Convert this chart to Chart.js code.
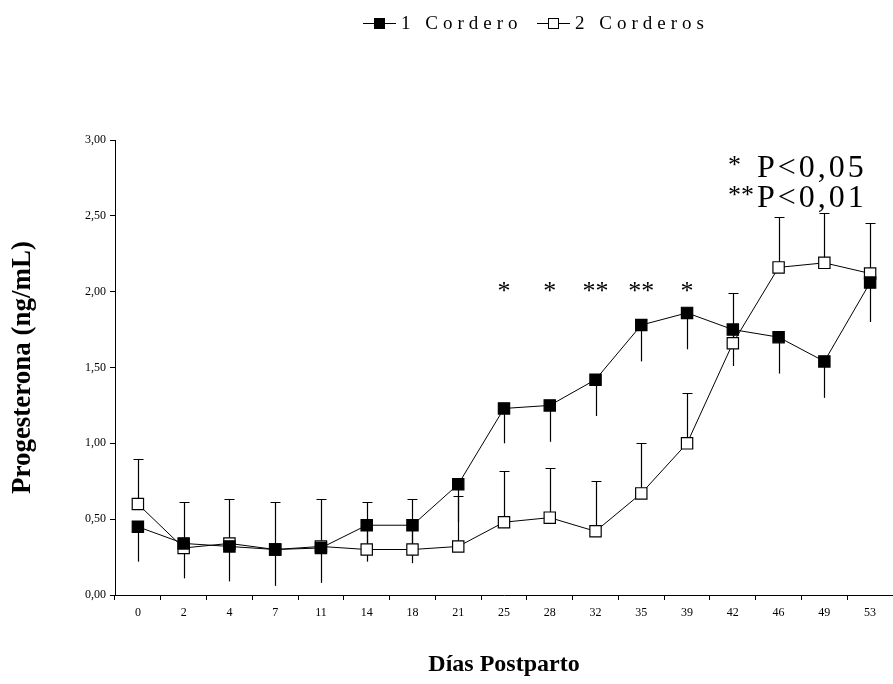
<!DOCTYPE html>
<html>
<head>
<meta charset="utf-8">
<script src="https://cdn.jsdelivr.net/npm/chart.js@4/dist/chart.umd.min.js"></script>
<style>
  body { margin: 0; background: #fff; }
  canvas { display: block; }
</style>
</head>
<body>
<canvas id="progChart" width="893" height="684"></canvas>
<script>
const days = ['0', '2', '4', '7', '11', '14', '18', '21', '25', '28', '32', '35', '39', '42', '46', '49', '53'];
const oneLamb = [0.45, 0.34, 0.32, 0.30, 0.31, 0.46, 0.46, 0.73, 1.23, 1.25, 1.42, 1.78, 1.86, 1.75, 1.70, 1.54, 2.06];
const oneLambErr = [0.23, 0.23, 0.23, 0.24, 0.23, 0.24, 0.25, 0.25, 0.23, 0.24, 0.24, 0.24, 0.24, 0.24, 0.24, 0.24, 0.26];
const twoLambs = [0.60, 0.31, 0.34, 0.30, 0.32, 0.30, 0.30, 0.32, 0.48, 0.51, 0.42, 0.67, 1.00, 1.66, 2.16, 2.19, 2.12];
const twoLambsErr = [0.30, 0.30, 0.29, 0.31, 0.31, 0.31, 0.33, 0.33, 0.34, 0.33, 0.33, 0.33, 0.33, 0.33, 0.33, 0.33, 0.33];
const signif = ['', '', '', '', '', '', '', '', '*', '*', '**', '**', '*', '', '', '', ''];
const signifLevel = 2.03;
const pNotes = ['P<0,05', 'P<0,01'];
const pStars = ['*', '**'];

const serif = "'Liberation Serif', 'DejaVu Serif', serif";

// error bars: 2 corderos up with caps, 1 cordero down without
const errorBars = {
  id: 'errorBars',
  beforeDatasetsDraw(chart) {
    const { ctx, scales: { x, y } } = chart;
    ctx.save();
    ctx.strokeStyle = '#000';
    ctx.lineWidth = 1.2;
    days.forEach((d, i) => {
      const px = Math.round(x.getPixelForValue(i)) + 0.5;
      const a = y.getPixelForValue(twoLambs[i]);
      const b = Math.round(y.getPixelForValue(twoLambs[i] + twoLambsErr[i])) + 0.5;
      ctx.beginPath();
      ctx.moveTo(px, a);
      ctx.lineTo(px, b);
      ctx.moveTo(px - 5, b);
      ctx.lineTo(px + 5, b);
      ctx.stroke();
      const c = y.getPixelForValue(oneLamb[i]);
      const e = y.getPixelForValue(oneLamb[i] - oneLambErr[i]);
      ctx.beginPath();
      ctx.moveTo(px, c);
      ctx.lineTo(px, e);
      ctx.stroke();
    });
    ctx.restore();
  }
};

// legend, significance stars and p notes
const extras = {
  id: 'extras',
  afterDraw(chart) {
    const { ctx, scales: { x, y } } = chart;
    ctx.save();
    ctx.fillStyle = '#000';
    ctx.textBaseline = 'alphabetic';

    ctx.font = '26px ' + serif;
    ctx.textAlign = 'center';
    signif.forEach((s, i) => {
      if (s) ctx.fillText(s, x.getPixelForValue(i), y.getPixelForValue(signifLevel) + 12);
    });

    ctx.textAlign = 'left';
    ctx.fillText(pStars[0], 728, 173);
    ctx.fillText(pStars[1], 728, 203);
    ctx.font = '32px ' + serif;
    ctx.letterSpacing = '3px';
    ctx.fillText(pNotes[0], 757, 177);
    ctx.fillText(pNotes[1], 757, 207);

    // legend
    const items = [
      { label: '1 Cordero', fill: '#000', x: 363 },
      { label: '2 Corderos', fill: '#fff', x: 537 }
    ];
    const ly = 23;
    ctx.font = '19px ' + serif;
    ctx.letterSpacing = '5px';
    ctx.textBaseline = 'middle';
    items.forEach(it => {
      ctx.strokeStyle = '#000';
      ctx.lineWidth = 1;
      ctx.beginPath();
      ctx.moveTo(it.x, ly + 0.5);
      ctx.lineTo(it.x + 33, ly + 0.5);
      ctx.stroke();
      ctx.fillStyle = it.fill;
      ctx.fillRect(it.x + 11, ly - 5, 11, 11);
      ctx.strokeRect(it.x + 11.5, ly - 4.5, 10, 10);
      ctx.fillStyle = '#000';
      ctx.fillText(it.label, it.x + 38, ly + 1);
    });
    ctx.restore();
  }
};

new Chart(document.getElementById('progChart').getContext('2d'), {
  type: 'line',
  data: {
    labels: days,
    datasets: [{
      label: '1 Cordero',
      data: oneLamb,
      borderColor: '#000',
      borderWidth: 1,
      pointStyle: 'rect',
      pointRadius: 8,
      pointBackgroundColor: '#000',
      pointBorderColor: '#000',
      pointBorderWidth: 1.2
    }, {
      label: '2 Corderos',
      data: twoLambs,
      borderColor: '#000',
      borderWidth: 1,
      pointStyle: 'rect',
      pointRadius: 8,
      pointBackgroundColor: '#fff',
      pointBorderColor: '#000',
      pointBorderWidth: 1.2
    }]
  },
  options: {
    responsive: false,
    animation: false,
    layout: {
      autoPadding: false,
      padding: { top: 140, right: 0, left: 2, bottom: 0 }
    },
    plugins: {
      legend: { display: false },
      tooltip: { enabled: false }
    },
    scales: {
      x: {
        offset: true,
        grid: { offset: true, drawOnChartArea: false, color: '#000', tickLength: 5 },
        border: { color: '#000', width: 1 },
        ticks: { color: '#000', font: { family: serif, size: 12 }, padding: 6, maxRotation: 0, autoSkip: false },
        title: {
          display: true,
          text: 'Días Postparto',
          color: '#000',
          font: { family: serif, size: 24, weight: 'bold' },
          padding: { top: 0, bottom: 5 }
        },
        afterFit(scale) {
          scale.height = 89;
          scale.paddingLeft = 0;
          scale.paddingRight = 0;
        }
      },
      y: {
        min: 0,
        max: 3,
        grid: { drawOnChartArea: false, color: '#000', tickLength: 5 },
        border: { color: '#000', width: 1 },
        ticks: {
          stepSize: 0.5,
          color: '#000',
          font: { family: serif, size: 12 },
          padding: 4,
          callback: v => v.toFixed(2).replace('.', ',')
        },
        title: {
          display: true,
          text: 'Progesterona (ng/mL)',
          color: '#000',
          font: { family: serif, size: 27, weight: 'bold' },
          padding: { top: 5, bottom: 0 }
        },
        afterFit(scale) { scale.width = 113; }
      }
    }
  },
  plugins: [errorBars, extras]
});
</script>
</body>
</html>
